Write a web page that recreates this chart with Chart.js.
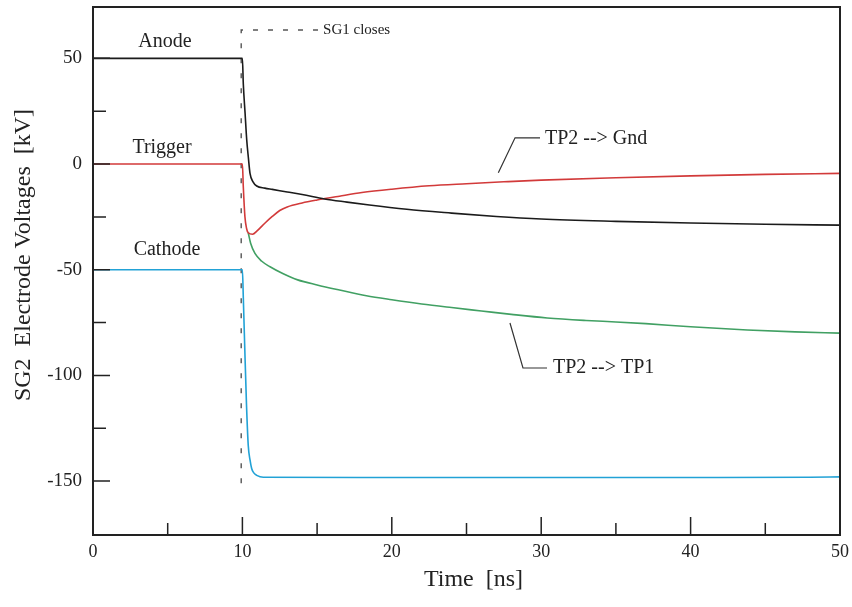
<!DOCTYPE html>
<html>
<head>
<meta charset="utf-8">
<script src="https://cdn.jsdelivr.net/npm/chart.js@4.4.1/dist/chart.umd.min.js"></script>
<style>
  html, body { margin: 0; padding: 0; background: #fff; }
  #wrap { width: 852px; height: 607px; }
</style>
</head>
<body>
<div id="wrap"><canvas id="graficoTensoes" width="852" height="607"></canvas></div>
<script>
// time in ns, voltage in kV
const anodeTime = [0, 10, 10.06, 10.18, 10.29, 10.4, 10.51, 10.7, 10.96, 11.5, 12, 13, 14, 15.5, 17, 18.5, 21, 24, 27, 30, 35, 40, 45, 50]
const anodeKv   = [50, 50, 38, 24, 11.4, 3, -4.4, -8.3, -10.4, -11.4, -12, -13.2, -14.4, -16.5, -18, -19.4, -21.4, -23.2, -24.8, -26, -27.1, -27.9, -28.5, -28.9]

const triggerTime = [0, 10, 10.06, 10.17, 10.28, 10.39, 10.68, 11, 11.5, 12, 12.5, 13, 14, 15, 16.5, 18, 20, 22.5, 25, 27.5, 30, 35, 40, 45, 50]
const triggerKv   = [0, 0, -10.7, -25, -30.5, -32.5, -33.2, -31.5, -28.0, -24.8, -22, -20.3, -18.4, -17.0, -15.2, -13.5, -11.9, -10.3, -9.3, -8.4, -7.6, -6.5, -5.6, -4.9, -4.4]

const tp1Time = [10.39, 10.55, 10.84, 11.3, 11.85, 12.7, 13.7, 15, 16.5, 18.3, 20, 22, 24, 26, 28, 30.4, 33, 35, 37, 40, 43.8, 47, 50]
const tp1Kv   = [-32.5, -37.5, -42.3, -46, -48.6, -51.8, -54.8, -57.2, -59.6, -62.3, -64.2, -66.2, -67.9, -69.5, -71.1, -72.8, -74, -74.7, -75.5, -77, -78.5, -79.4, -80]

const cathodeTime = [0, 10, 10.06, 10.15, 10.27, 10.39, 10.51, 10.62, 10.75, 10.96, 11.4, 20, 30, 40, 48, 50]
const cathodeKv   = [-50, -50, -63, -85, -113, -133, -140, -144, -146, -147.3, -148.2, -148.3, -148.3, -148.3, -148.2, -148]

// "SG1 closes" marker and the two leader lines
const sg1Time = [15.06, 9.92, 9.92]
const sg1Kv   = [63.4, 63.4, -152]
const gndLeaderTime = [27.13, 28.25, 29.92]
const gndLeaderKv   = [-4.1, 12.4, 12.4]
const tp1LeaderTime = [27.91, 28.78, 30.39]
const tp1LeaderKv   = [-75.2, -96.5, -96.5]

// text labels placed in data units
const labelText  = ['Anode', 'Trigger', 'Cathode', 'TP2 --> Gnd', 'TP2 --> TP1', 'SG1 closes']
const labelTime  = [4.82, 4.62, 4.95, 30.25, 30.79, 15.4]
const labelKv    = [57.8, 7.8, -40.7, 11.8, -96.5, 63.6]

const xTickLabels = [0, 10, 20, 30, 40, 50]
const xTickMarks  = [5, 10, 15, 20, 25, 30, 35, 40, 45]
const yTickLabels = [50, 0, -50, -100, -150]
const yTickMarks  = [50, 25, 0, -25, -50, -75, -100, -125, -150]

const FONTE = "'Liberation Serif', 'Times New Roman', serif"

function pontos(t, v) {
  return t.map((x, i) => ({ x: x, y: v[i] }))
}

function serie(label, t, v, cor, extra) {
  return Object.assign({
    label: label,
    data: pontos(t, v),
    borderColor: cor,
    borderWidth: 1.6,
    pointRadius: 0,
    fill: false,
    cubicInterpolationMode: 'monotone'
  }, extra || {})
}

const molduraETextos = {
  id: 'molduraETextos',
  afterDatasetsDraw(chart) {
    const ctx = chart.ctx
    const a = chart.chartArea
    const x = chart.scales.x
    const y = chart.scales.y
    ctx.save()

    ctx.strokeStyle = '#222'
    ctx.lineWidth = 2
    ctx.strokeRect(a.left, a.top, a.right - a.left, a.bottom - a.top)

    // ticks point inward
    ctx.lineWidth = 1.5
    ctx.beginPath()
    xTickMarks.forEach(v => {
      const px = x.getPixelForValue(v)
      const len = v % 10 === 0 ? 18 : 12
      ctx.moveTo(px, a.bottom)
      ctx.lineTo(px, a.bottom - len)
    })
    yTickMarks.forEach(v => {
      const py = y.getPixelForValue(v)
      const len = v % 50 === 0 ? 17 : 13
      ctx.moveTo(a.left, py)
      ctx.lineTo(a.left + len, py)
    })
    ctx.stroke()

    ctx.fillStyle = '#222'
    ctx.textBaseline = 'middle'
    labelText.forEach((txt, i) => {
      const centered = i < 3
      ctx.font = (i === 5 ? '15px ' : '20px ') + FONTE
      ctx.textAlign = centered ? 'center' : 'left'
      ctx.fillText(txt, x.getPixelForValue(labelTime[i]), y.getPixelForValue(labelKv[i]))
    })

    // axis titles
    ctx.font = '24px ' + FONTE
    ctx.textAlign = 'center'
    ctx.fillText('Time  [ns]', (a.left + a.right) / 2 + 7, 580)
    ctx.save()
    ctx.translate(24, 255)
    ctx.rotate(-Math.PI / 2)
    ctx.fillText('SG2  Electrode Voltages  [kV]', 0, 0)
    ctx.restore()

    ctx.restore()
  }
}

function desenharGrafico() {
  const ctx = document.getElementById('graficoTensoes').getContext('2d')

  const datasets = [
    serie('Anode', anodeTime, anodeKv, '#1b1b1b'),
    serie('Trigger (TP2 --> Gnd)', triggerTime, triggerKv, '#d23a3a'),
    serie('TP2 --> TP1', tp1Time, tp1Kv, '#41a063'),
    serie('Cathode', cathodeTime, cathodeKv, '#22a2d6'),
    serie('SG1 closes', sg1Time, sg1Kv, '#555', { borderWidth: 1.4, borderDash: [5, 10], cubicInterpolationMode: 'default', tension: 0 }),
    serie('gnd leader', gndLeaderTime, gndLeaderKv, '#333', { borderWidth: 1.2, cubicInterpolationMode: 'default', tension: 0 }),
    serie('tp1 leader', tp1LeaderTime, tp1LeaderKv, '#333', { borderWidth: 1.2, cubicInterpolationMode: 'default', tension: 0 })
  ]

  new Chart(ctx, {
    type: 'line',
    data: { datasets: datasets },
    options: {
      responsive: false,
      animation: false,
      layout: { padding: { top: 7, right: 12, left: 0, bottom: 0 } },
      plugins: { legend: { display: false }, tooltip: { enabled: false } },
      scales: {
        x: {
          type: 'linear',
          min: 0,
          max: 50,
          grid: { display: false, drawTicks: false },
          border: { display: false },
          afterBuildTicks: (sc) => { sc.ticks = xTickLabels.map(v => ({ value: v })) },
          afterFit: (sc) => {
            sc.height = 72
            sc.paddingLeft = 0
            sc.paddingRight = 0
          },
          ticks: { padding: 6, color: '#222', font: { family: FONTE, size: 18 }, maxRotation: 0 }
        },
        y: {
          type: 'linear',
          min: -175.5,
          max: 74.3,
          grid: { display: false, drawTicks: false },
          border: { display: false },
          afterBuildTicks: (sc) => { sc.ticks = yTickLabels.map(v => ({ value: v })) },
          afterFit: (sc) => {
            sc.width = 93
            sc.paddingTop = 0
            sc.paddingBottom = 0
          },
          ticks: { padding: 11, color: '#222', font: { family: FONTE, size: 19 } }
        }
      }
    },
    plugins: [molduraETextos]
  })
}

window.onload = () => {
  desenharGrafico()
}
</script>
</body>
</html>
